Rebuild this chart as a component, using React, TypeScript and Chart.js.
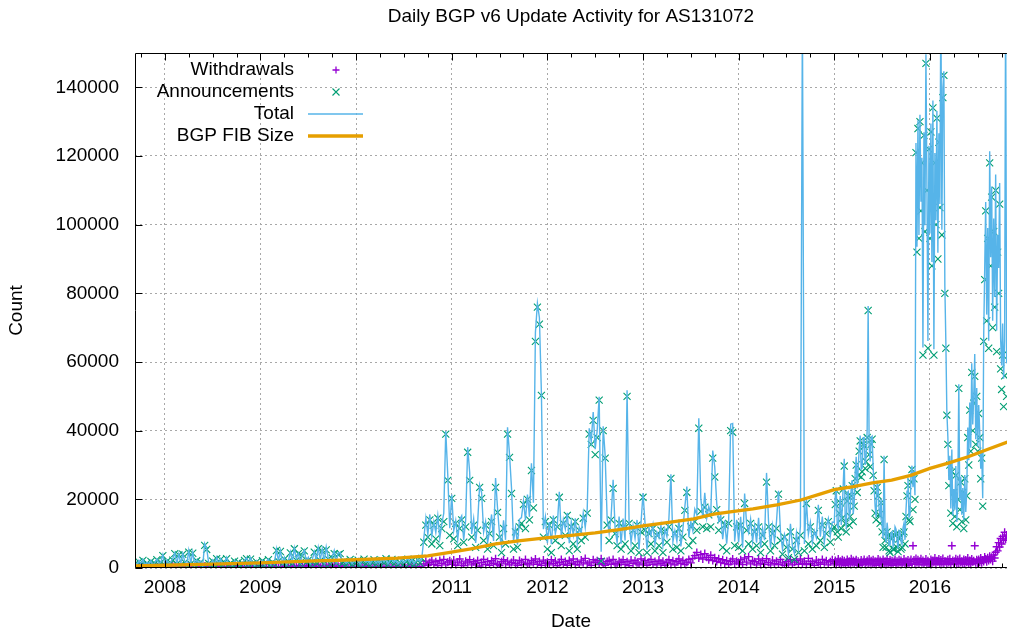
import { useEffect, useRef } from 'react';
import { Chart, registerables } from 'chart.js';

Chart.register(...registerables);

const TITLE = 'Daily BGP v6 Update Activity for AS131072';
const X_TITLE = 'Date';
const Y_TITLE = 'Count';
const SERIES_LABELS = ['Withdrawals', 'Announcements', 'Total', 'BGP FIB Size'];
const YEAR_TICKS = [2008, 2009, 2010, 2011, 2012, 2013, 2014, 2015, 2016];
const COUNT_TICKS = [0, 20000, 40000, 60000, 80000, 100000, 120000, 140000];
const X_MIN = 2007.688;
const X_MAX = 2016.805;
const Y_MAX = 150000;
const UNIT = 1000; // series below are in thousands

// Announcements (thousands), 48 samples per year up to 2014, 96 per year afterwards
const ann2007 = [1.2, 0.6, 1.8, 0.9, 2.2, 0.7, 1.4, 0.8, 1.9, 0.6, 1.3, 2.4, 0.9, 1.6, 3.6];
const ann2008 = [
  0.8, 1.9, 0.7, 1.5, 2.3, 4.2, 1.1, 3.8, 0.9, 4.0, 1.6, 0.7, 4.6, 1.2, 4.3, 0.8,
  2.1, 1.0, 1.7, 0.6, 6.6, 5.4, 1.3, 0.9, 2.0, 0.7, 2.7, 1.1, 2.5, 0.8, 1.6, 2.7,
  0.9, 1.4, 0.6, 2.0, 1.0, 1.7, 0.7, 1.3, 2.2, 2.7, 0.9, 2.6, 1.2, 0.6, 1.8, 1.0,
];
const ann2009 = [
  1.0, 2.1, 0.8, 1.5, 2.4, 0.9, 1.7, 1.1, 5.1, 2.0, 4.8, 1.2, 2.6, 0.8, 1.9, 4.4,
  1.3, 5.6, 2.2, 4.2, 1.0, 3.5, 5.0, 1.6, 2.3, 0.9, 1.8, 4.6, 1.4, 5.6, 2.1, 4.9,
  1.2, 5.3, 2.6, 1.1, 2.9, 4.2, 1.5, 3.9, 4.2, 1.3, 2.0, 0.9, 1.7, 2.5, 1.0, 1.6,
];
const ann2010 = [
  1.4, 2.3, 0.9, 1.8, 2.6, 1.2, 2.0, 0.8, 1.6, 2.4, 1.1, 1.9, 0.9, 2.2, 1.4, 2.7,
  1.0, 1.8, 2.5, 1.2, 2.0, 0.9, 1.6, 2.3, 1.1, 1.9, 2.6, 1.3, 2.1, 1.0, 1.7, 2.4,
  1.5, 2.8, 7.5, 12.5, 9.0, 14.0, 7.0, 12.5, 8.5, 14.5, 6.5, 11.5, 13.5, 39.0, 25.5, 9.5,
];
const ann2011 = [
  20.3, 8.5, 13.0, 6.5, 11.5, 14.0, 7.5, 12.0, 33.7, 25.5, 9.0, 12.5, 6.0, 11.0, 23.5, 20.3,
  8.0, 12.5, 5.5, 10.0, 13.5, 6.5, 23.5, 16.2, 9.0, 4.5, 11.5, 7.0, 39.0, 32.2, 21.7, 5.5,
  10.5, 6.0, 12.0, 13.0, 18.5, 11.5, 20.0, 14.0, 28.4, 17.5, 66.0, 76.0, 71.0, 50.3, 9.0, 13.5,
];
const ann2012 = [
  5.5, 12.5, 4.5, 14.0, 8.0, 12.0, 20.6, 6.5, 13.0, 9.5, 15.3, 5.0, 12.0, 7.0, 13.5, 5.5,
  11.0, 8.0, 14.5, 9.0, 16.0, 39.0, 36.0, 43.0, 33.0, 38.0, 48.9, 2.0, 40.0, 32.0, 12.5, 8.0,
  14.0, 23.2, 10.0, 6.5, 13.0, 5.5, 12.0, 7.0, 50.0, 13.0, 5.0, 11.0, 6.5, 12.5, 4.5, 10.5,
];
const ann2013 = [
  20.6, 11.0, 4.5, 10.0, 7.0, 11.5, 5.0, 9.5, 6.5, 11.0, 4.5, 10.5, 7.5, 12.0, 26.1, 5.5,
  10.0, 6.0, 11.5, 5.0, 9.0, 16.8, 22.0, 6.5, 12.0, 8.0, 13.5, 11.0, 40.7, 16.5, 12.0, 17.7,
  11.5, 15.5, 12.0, 32.0, 26.5, 17.0, 11.0, 14.0, 6.0, 12.5, 5.0, 13.0, 40.0, 39.5, 6.5, 12.0,
];
const ann2014 = [
  6.0, 12.5, 5.0, 18.8, 11.0, 7.0, 13.0, 5.5, 10.5, 6.5, 12.0, 4.5, 9.5, 7.0, 25.0, 12.0,
  5.0, 10.0, 6.5, 11.5, 21.5, 8.0, 4.0, 9.0, 6.0, 3.0, 10.5, 5.5, 2.5, 8.0, 4.5, 9.5,
  160.0, 5.0, 18.8, 7.0, 12.0, 5.5, 10.0, 6.5, 16.8, 8.0, 12.5, 6.0, 10.0, 13.5, 7.5, 11.0,
];
const ann2015 = [
  12.0, 18.5, 22.5, 10.5, 9.0, 16.0, 19.0, 11.5, 14.5, 23.0, 29.7, 13.0, 10.5, 19.5, 21.0, 12.5,
  15.0, 21.0, 24.0, 13.5, 18.0, 26.0, 30.0, 22.0, 27.0, 34.0, 37.0, 26.5, 28.0, 36.0, 35.5, 29.0,
  31.0, 38.0, 75.0, 33.0, 29.5, 36.0, 37.5, 27.0, 22.5, 16.0, 14.0, 23.5, 21.0, 15.5, 13.0, 19.0,
  10.5, 6.0, 31.6, 8.0, 6.0, 10.5, 9.5, 5.0, 4.5, 9.0, 8.5, 5.5, 5.5, 9.5, 10.0, 6.0,
  4.8, 8.5, 9.0, 5.5, 6.0, 10.0, 10.5, 7.0, 15.0, 21.0, 24.0, 14.0, 13.5, 25.0, 28.7, 17.0,
  26.0, 20.0, 121.0, 92.0, 128.0, 96.0, 130.0, 104.0, 118.0, 62.0, 126.0, 98.0, 147.0, 110.0, 64.0, 122.0,
];
const ann2016 = [
  96.0, 127.0, 88.0, 134.0, 62.0, 118.0, 100.0, 131.0, 90.0, 124.0, 105.0, 165.0, 97.0, 137.0, 143.5, 80.0,
  64.0, 44.5, 36.0, 24.0, 30.0, 16.0, 28.0, 13.0, 22.0, 15.0, 27.0, 12.0, 20.0, 52.3, 17.0, 25.0,
  13.5, 22.0, 11.5, 26.0, 14.0, 21.0, 38.0, 30.0, 46.0, 34.0, 57.0, 40.0, 48.0, 55.8, 36.0, 50.0,
  34.0, 45.0, 38.0, 26.0, 32.0, 18.0, 66.0, 84.0, 104.0, 72.0, 96.0, 64.0, 118.0, 88.0, 108.0, 70.0,
  98.0, 76.0, 110.0, 63.0, 92.0, 80.0, 106.0, 58.0, 52.0, 62.0, 47.0, 56.0, 160.0, 50.0,
];

// Withdrawals (thousands), same sampling as the announcements
const wd2007 = [0.3, 0.1, 0.4, 0.2, 0.3, 0.1, 0.2, 0.4, 0.2, 0.1, 0.3, 0.2, 0.4, 0.1, 0.3];
const wd2008 = [
  0.2, 0.4, 0.1, 0.3, 0.5, 0.2, 0.1, 0.3, 0.4, 0.2, 0.3, 0.1, 0.5, 0.2, 0.3, 0.1,
  0.2, 0.4, 0.3, 0.1, 0.5, 0.3, 0.2, 0.1, 0.3, 0.2, 0.4, 0.1, 0.2, 0.3, 0.1, 0.4,
  0.2, 0.1, 0.3, 0.2, 0.4, 0.1, 0.3, 0.2, 0.1, 0.3, 0.2, 0.4, 0.1, 0.2, 0.3, 0.1,
];
const wd2009 = [
  0.3, 0.1, 0.2, 0.4, 0.2, 0.1, 0.3, 0.2, 0.4, 0.1, 0.3, 0.2, 0.5, 0.2, 0.1, 0.3,
  0.6, 0.2, 0.4, 0.1, 0.7, 0.3, 0.2, 0.5, 0.8, 0.3, 0.6, 0.2, 0.9, 0.4, 0.3, 0.7,
  0.5, 0.8, 0.3, 0.6, 0.4, 0.9, 0.2, 0.5, 0.3, 0.6, 0.2, 0.4, 0.1, 0.3, 0.2, 0.4,
];
const wd2010 = [
  0.2, 0.4, 0.1, 0.3, 0.2, 0.5, 0.1, 0.3, 0.4, 0.2, 0.3, 0.1, 0.2, 0.4, 0.3, 0.1,
  0.2, 0.3, 0.1, 0.4, 0.2, 0.3, 0.1, 0.2, 0.4, 0.1, 0.3, 0.2, 0.5, 0.2, 0.3, 0.1,
  0.4, 0.2, 1.2, 2.0, 0.8, 1.6, 2.3, 1.0, 1.8, 0.7, 2.2, 1.3, 2.5, 0.9, 1.7, 2.1,
];
const wd2011 = [
  1.1, 2.3, 0.8, 1.7, 2.6, 1.2, 0.7, 2.0, 1.5, 2.4, 0.9, 1.8, 1.3, 2.2, 0.6, 1.6,
  2.5, 1.0, 1.9, 0.8, 2.1, 1.4, 2.7, 1.1, 0.7, 1.8, 2.4, 1.2, 2.0, 0.9, 1.6, 2.3,
  1.3, 0.8, 2.2, 1.7, 1.0, 2.5, 1.4, 0.9, 2.1, 1.5, 2.6, 1.1, 1.9, 0.8, 2.3, 1.4,
];
const wd2012 = [
  1.7, 0.9, 2.4, 1.3, 2.0, 0.7, 1.6, 2.5, 1.1, 1.9, 0.8, 2.2, 1.4, 2.6, 1.0, 1.8,
  0.9, 2.3, 1.5, 2.8, 1.2, 1.7, 0.8, 2.4, 1.6, 2.1, 1.0, 2.7, 1.3, 0.8, 1.9, 2.2,
  1.1, 2.5, 1.4, 0.9, 2.0, 1.6, 2.4, 1.0, 1.8, 0.7, 2.3, 1.3, 2.1, 1.5, 0.9, 2.6,
];
const wd2013 = [
  1.2, 2.2, 0.8, 1.7, 2.5, 1.1, 1.9, 0.9, 2.3, 1.4, 2.0, 0.8, 1.6, 2.4, 1.2, 2.1,
  0.9, 1.8, 2.6, 1.3, 2.2, 1.0, 1.7, 2.5, 1.5, 2.8, 3.6, 4.5, 2.9, 3.9, 2.6, 4.2,
  3.1, 2.4, 3.7, 2.2, 3.0, 1.9, 2.7, 1.6, 2.4, 1.3, 2.1, 1.0, 1.9, 2.6, 1.2, 2.0,
];
const wd2014 = [
  1.5, 2.4, 1.0, 2.9, 1.7, 3.3, 1.2, 2.2, 1.8, 0.9, 2.6, 1.4, 2.1, 1.1, 2.7, 1.6,
  0.9, 2.3, 1.3, 2.0, 1.0, 2.5, 1.5, 0.8, 1.9, 1.2, 2.4, 0.9, 1.7, 2.2, 1.1, 2.6,
  1.4, 2.0, 1.0, 2.8, 1.3, 1.9, 0.8, 2.3, 1.6, 1.1, 2.5, 1.5, 2.1, 0.9, 1.8, 2.4,
];
const wd2015 = [
  1.3, 2.2, 0.9, 1.8, 2.6, 1.2, 2.0, 1.0, 2.4, 1.5, 2.1, 0.8, 1.7, 2.5, 1.3, 2.0,
  1.1, 2.7, 1.6, 2.2, 0.9, 1.9, 2.4, 1.2, 2.0, 0.8, 1.6, 2.3, 1.1, 1.8, 2.5, 1.0,
  1.7, 2.2, 1.3, 2.6, 1.5, 2.1, 0.9, 2.4, 1.2, 2.0, 0.8, 1.9, 2.6, 1.4, 2.2, 1.0,
  1.8, 2.5, 1.1, 2.0, 1.4, 2.7, 0.9, 1.6, 2.3, 1.2, 2.1, 0.8, 1.9, 2.5, 1.3, 2.0,
  1.0, 2.4, 1.6, 2.2, 0.9, 1.7, 2.6, 1.2, 2.0, 1.4, 2.3, 0.8, 1.9, 2.5, 1.1, 6.5,
  2.3, 1.2, 2.8, 1.6, 2.4, 1.0, 2.0, 2.7, 1.5, 2.2, 0.9, 1.8, 2.6, 1.3, 2.1, 1.0,
];
const wd2016 = [
  1.4, 2.5, 1.1, 2.2, 1.7, 2.9, 1.3, 2.1, 1.8, 2.6, 1.0, 2.3, 1.5, 2.8, 1.2, 2.0,
  1.9, 1.1, 2.4, 1.6, 2.7, 1.3, 6.5, 2.2, 1.0, 2.0, 2.7, 1.4, 2.4, 1.2, 2.8, 1.6,
  2.0, 1.3, 2.5, 1.1, 2.3, 1.7, 2.9, 1.4, 2.2, 1.0, 2.6, 1.8, 2.1, 6.5, 1.5, 2.4,
  1.3, 2.5, 1.7, 2.9, 1.5, 2.3, 1.9, 3.2, 2.6, 1.8, 3.0, 2.2, 3.4, 2.5, 3.1, 2.0,
  3.8, 2.9, 4.6, 6.2, 5.0, 7.4, 6.1, 8.6, 7.0, 9.2, 8.1, 10.4, 8.4, 9.6,
];

const YEAR_BLOCKS = [
  { year: 2007, first: 33, perYear: 48, ann: ann2007, wd: wd2007 },
  { year: 2008, first: 0, perYear: 48, ann: ann2008, wd: wd2008 },
  { year: 2009, first: 0, perYear: 48, ann: ann2009, wd: wd2009 },
  { year: 2010, first: 0, perYear: 48, ann: ann2010, wd: wd2010 },
  { year: 2011, first: 0, perYear: 48, ann: ann2011, wd: wd2011 },
  { year: 2012, first: 0, perYear: 48, ann: ann2012, wd: wd2012 },
  { year: 2013, first: 0, perYear: 48, ann: ann2013, wd: wd2013 },
  { year: 2014, first: 0, perYear: 48, ann: ann2014, wd: wd2014 },
  { year: 2015, first: 0, perYear: 96, ann: ann2015, wd: wd2015 },
  { year: 2016, first: 0, perYear: 96, ann: ann2016, wd: wd2016 },
];

// BGP FIB size (thousands)
const fibYears = [
  2007.69, 2008.0, 2008.5, 2009.0, 2009.5, 2010.0, 2010.43, 2010.75, 2010.95,
  2011.2, 2011.46, 2011.72, 2011.98, 2012.25, 2012.5, 2012.75, 2013.0,
  2013.27, 2013.53, 2013.74, 2013.95, 2014.15, 2014.4, 2014.65, 2014.85,
  2015.0, 2015.2, 2015.4, 2015.6, 2015.8, 2016.0, 2016.2, 2016.4, 2016.6, 2016.81,
];
const fibValues = [
  0.6, 0.8, 1.1, 1.5, 2.0, 2.4, 2.9, 3.5, 4.4,
  5.6, 7.0, 8.0, 8.75, 9.5, 10.2, 11.2, 12.25,
  13.3, 14.3, 15.7, 16.5, 17.2, 18.4, 19.8, 21.5,
  22.8, 23.7, 24.8, 25.6, 27.0, 29.0, 30.6, 32.4, 34.5, 36.7,
];

const COLORS = { wd: '#9400d3', ann: '#009e73', total: '#56b4e9', fib: '#e69f00' };
const FONT = "'Liberation Sans', Arial, Helvetica, sans-serif";

type Pt = { x: number; y: number };

function buildSeries() {
  const wd: Pt[] = [];
  const ann: Pt[] = [];
  const total: Pt[] = [];
  YEAR_BLOCKS.forEach((b) => {
    b.ann.forEach((a, k) => {
      const x = b.year + (b.first + k) / b.perYear;
      const w = b.wd[k];
      wd.push({ x, y: w * UNIT });
      ann.push({ x, y: a * UNIT });
      total.push({ x, y: (a + w) * UNIT });
    });
  });
  const fib: Pt[] = fibYears.map((x, i) => ({ x, y: fibValues[i] * UNIT }));
  return { wd, ann, total, fib };
}

const framePlugin = {
  id: 'gpFrame',
  afterDatasetsDraw(chart: any) {
    const { ctx, chartArea: a, scales } = chart;
    const xs = scales.x;
    const ys = scales.y;
    ctx.save();
    ctx.strokeStyle = '#000';
    ctx.lineWidth = 1;
    ctx.beginPath();
    const L = a.left + 0.5;
    const T = a.top + 0.5;
    const B = a.bottom - 0.5;
    ctx.moveTo(a.right, T);
    ctx.lineTo(L, T);
    ctx.lineTo(L, B);
    ctx.lineTo(a.right, B);
    for (let yr = 2007; yr <= 2017; yr++) {
      for (let q = 0; q < 4; q++) {
        const v = yr + q / 4;
        if (v < X_MIN || v > X_MAX) continue;
        const px = Math.round(xs.getPixelForValue(v)) + 0.5;
        const len = q === 0 ? 7 : 4;
        ctx.moveTo(px, B);
        ctx.lineTo(px, B - len);
        ctx.moveTo(px, T);
        ctx.lineTo(px, T + len);
      }
    }
    COUNT_TICKS.forEach((v) => {
      const py = Math.round(ys.getPixelForValue(v)) + 0.5;
      ctx.moveTo(L, py);
      ctx.lineTo(L + 7, py);
    });
    ctx.stroke();
    ctx.restore();
  },
};

const legendPlugin = {
  id: 'gpKey',
  afterDraw(chart: any) {
    const ctx = chart.ctx;
    const labels = chart.data.datasets
      .slice()
      .sort((p: any, q: any) => q.order - p.order)
      .map((d: any) => d.label);
    const textRight = 294;
    const s0 = 308;
    const s1 = 363;
    const sc = 336;
    const rows = [70, 92, 114, 136];
    ctx.save();
    ctx.font = `19px ${FONT}`;
    ctx.fillStyle = '#000';
    ctx.textAlign = 'right';
    ctx.textBaseline = 'middle';
    labels.forEach((t: string, i: number) => ctx.fillText(t, textRight, rows[i]));
    ctx.strokeStyle = COLORS.wd;
    ctx.lineWidth = 1.3;
    ctx.beginPath();
    ctx.moveTo(sc - 3.5, rows[0]);
    ctx.lineTo(sc + 3.5, rows[0]);
    ctx.moveTo(sc, rows[0] - 3.5);
    ctx.lineTo(sc, rows[0] + 3.5);
    ctx.stroke();
    ctx.strokeStyle = COLORS.ann;
    ctx.lineWidth = 1.1;
    ctx.beginPath();
    ctx.moveTo(sc - 3.5, rows[1] - 3.5);
    ctx.lineTo(sc + 3.5, rows[1] + 3.5);
    ctx.moveTo(sc - 3.5, rows[1] + 3.5);
    ctx.lineTo(sc + 3.5, rows[1] - 3.5);
    ctx.stroke();
    ctx.strokeStyle = COLORS.total;
    ctx.lineWidth = 1.5;
    ctx.beginPath();
    ctx.moveTo(s0, rows[2]);
    ctx.lineTo(s1, rows[2]);
    ctx.stroke();
    ctx.strokeStyle = COLORS.fib;
    ctx.lineWidth = 3.5;
    ctx.beginPath();
    ctx.moveTo(s0, rows[3]);
    ctx.lineTo(s1, rows[3]);
    ctx.stroke();
    ctx.restore();
  },
};

export default function App() {
  const ref = useRef<HTMLCanvasElement>(null);

  useEffect(() => {
    if (!ref.current) return;
    const s = buildSeries();
    const tickFont = { family: FONT, size: 19, weight: 'normal' as const };
    const titleFont = { family: FONT, size: 19, weight: 'normal' as const, lineHeight: 1.2 };
    const chart = new Chart(ref.current, {
      type: 'scatter',
      data: {
        datasets: [
          {
            label: SERIES_LABELS[0],
            data: s.wd,
            order: 4,
            showLine: false,
            pointStyle: 'cross',
            pointRadius: 4,
            pointBorderWidth: 1.4,
            borderColor: COLORS.wd,
            backgroundColor: COLORS.wd,
          },
          {
            label: SERIES_LABELS[1],
            data: s.ann,
            order: 3,
            showLine: false,
            pointStyle: 'crossRot',
            pointRadius: 5,
            pointBorderWidth: 1.1,
            borderColor: COLORS.ann,
            backgroundColor: COLORS.ann,
          },
          {
            label: SERIES_LABELS[2],
            data: s.total,
            order: 2,
            showLine: true,
            pointRadius: 0,
            borderWidth: 1.4,
            borderColor: COLORS.total,
            backgroundColor: COLORS.total,
            tension: 0,
          },
          {
            label: SERIES_LABELS[3],
            data: s.fib,
            order: 1,
            showLine: true,
            pointRadius: 0,
            borderWidth: 3.3,
            borderColor: COLORS.fib,
            backgroundColor: COLORS.fib,
            tension: 0,
          },
        ],
      },
      options: {
        animation: false,
        responsive: false,
        devicePixelRatio: 1,
        events: [],
        layout: { padding: 0 },
        plugins: {
          legend: { display: false },
          tooltip: { enabled: false },
          title: {
            display: true,
            text: TITLE,
            color: '#000',
            fullSize: false,
            font: titleFont,
            padding: { top: 5.5, bottom: 24.7 },
          },
        },
        scales: {
          x: {
            type: 'linear',
            min: X_MIN,
            max: X_MAX,
            afterBuildTicks: (scale: any) => {
              scale.ticks = YEAR_TICKS.map((v) => ({ value: v }));
            },
            afterFit: (scale: any) => {
              scale.height = 65;
            },
            ticks: {
              color: '#000',
              font: tickFont,
              padding: 8.6,
              maxRotation: 0,
              autoSkip: false,
              callback: (v: any) => String(v),
            },
            grid: { color: '#a8a8a8', lineWidth: 1, drawTicks: false },
            border: { display: false, dash: [2, 3] },
            title: {
              display: true,
              text: X_TITLE,
              color: '#000',
              font: titleFont,
              padding: { top: 0, bottom: 0 },
            },
          },
          y: {
            type: 'linear',
            min: 0,
            max: Y_MAX,
            afterBuildTicks: (scale: any) => {
              scale.ticks = COUNT_TICKS.map((v) => ({ value: v }));
            },
            afterFit: (scale: any) => {
              scale.width = 135;
            },
            ticks: {
              color: '#000',
              font: tickFont,
              padding: 16,
              autoSkip: false,
              callback: (v: any) => String(v),
            },
            grid: { color: '#a8a8a8', lineWidth: 1, drawTicks: false },
            border: { display: false, dash: [2, 3] },
            title: {
              display: true,
              text: Y_TITLE,
              color: '#000',
              font: titleFont,
              padding: { top: 5.6, bottom: 0 },
            },
          },
        },
      },
      plugins: [framePlugin, legendPlugin],
    });
    return () => chart.destroy();
  }, []);

  return (
    <div
      style={{
        position: 'absolute',
        left: 0,
        top: 0,
        width: 1013,
        height: 633,
        background: '#fff',
        overflow: 'hidden',
      }}
    >
      <canvas ref={ref} width={1013} height={633} style={{ display: 'block', width: 1013, height: 633 }} />
    </div>
  );
}
